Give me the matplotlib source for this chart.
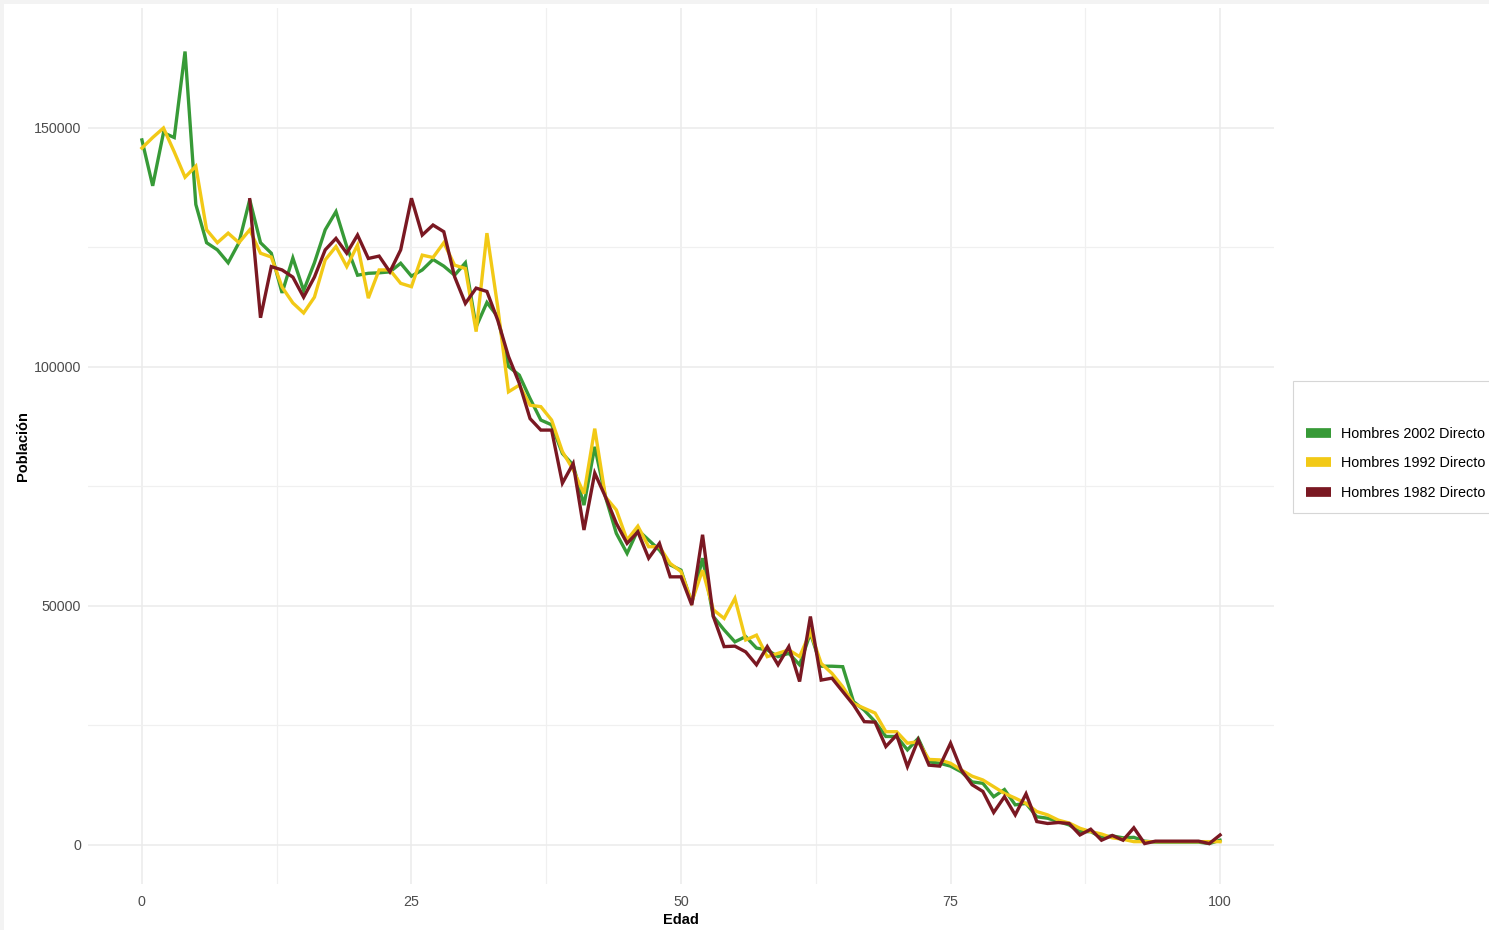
import numpy as np
import matplotlib.pyplot as plt
from matplotlib.patches import Rectangle
from matplotlib.lines import Line2D

plt.rcParams['font.family'] = ['Liberation Sans', 'DejaVu Sans']

# Población por edad (miles)
edad = list(range(0, 101))
edad_1982 = list(range(10, 101))

hombres_2002 = [
    147.5, 137.9, 149.0, 148.0, 166.0, 134.0, 126.0, 124.5, 121.8, 126.0,
    135.0, 126.0, 123.8, 115.5, 122.8, 116.0, 121.8, 128.7, 132.5, 125.2,
    119.2, 119.6, 119.7, 119.9, 121.7, 119.0, 120.3, 122.5, 121.1, 119.2,
    121.8, 108.4, 113.5, 110.5, 100.1, 98.3, 93.4, 88.9, 87.9, 81.9,
    79.5, 71.1, 83.3, 72.8, 65.2, 61.0, 65.9, 63.8, 61.7, 58.6,
    57.5, 50.6, 60.0, 47.8, 45.0, 42.5, 43.6, 41.2, 40.8, 39.4,
    40.1, 37.7, 44.3, 37.4, 37.4, 37.3, 30.0, 28.2, 25.8, 22.7,
    22.7, 19.9, 22.3, 17.4, 17.1, 16.5, 15.3, 13.2, 12.9, 10.1,
    11.6, 8.4, 8.7, 5.9, 5.6, 4.9, 4.2, 2.8, 2.8, 1.6,
    1.9, 1.5, 1.6, 0.8, 0.6, 0.6, 0.6, 0.6, 0.6, 0.3,
    1.0,
]

hombres_1992 = [
    145.8, 148.0, 150.0, 145.0, 139.7, 142.0, 128.7, 126.0, 128.0, 126.0,
    128.7, 123.8, 123.0, 116.7, 113.4, 111.3, 114.6, 122.4, 125.2, 121.0,
    125.5, 114.4, 120.3, 120.3, 117.5, 116.8, 123.4, 122.9, 126.0, 121.3,
    120.6, 107.4, 128.0, 112.6, 94.8, 96.2, 92.0, 91.7, 88.9, 82.3,
    78.5, 73.5, 87.1, 72.8, 70.1, 63.8, 66.7, 62.4, 62.4, 58.9,
    57.2, 50.9, 57.5, 49.2, 47.4, 51.6, 42.9, 43.9, 39.4, 40.1,
    40.8, 39.4, 44.6, 38.0, 35.9, 33.1, 29.6, 28.6, 27.6, 23.7,
    23.7, 21.3, 21.6, 17.9, 17.8, 17.1, 15.7, 14.4, 13.6, 12.2,
    10.8, 9.8, 8.7, 7.0, 6.3, 5.2, 4.6, 3.5, 2.8, 2.3,
    1.5, 1.2, 0.7, 0.7, 0.7, 0.7, 0.7, 0.7, 0.7, 0.7,
    0.7,
]

hombres_1982 = [
    135.0, 110.3, 121.0, 120.3, 118.8, 114.6, 118.8, 124.5, 126.9, 123.8,
    127.6, 122.7, 123.2, 119.9, 124.5, 135.3, 127.6, 129.7, 128.3, 118.9,
    113.3, 116.5, 115.8, 109.8, 102.2, 96.6, 89.2, 86.8, 86.8, 75.7,
    79.8, 65.9, 77.8, 72.8, 67.3, 63.1, 65.5, 60.0, 63.1, 56.1,
    56.1, 50.2, 64.9, 47.8, 41.5, 41.6, 40.4, 37.7, 41.5, 37.7,
    41.5, 34.2, 47.8, 34.5, 34.9, 32.1, 29.3, 25.8, 25.7, 20.6,
    23.0, 16.4, 22.0, 16.7, 16.5, 21.3, 15.7, 12.6, 11.2, 6.8,
    10.1, 6.3, 10.7, 4.9, 4.5, 4.7, 4.5, 2.1, 3.3, 1.0,
    2.0, 1.0, 3.6, 0.3, 0.8, 0.8, 0.8, 0.8, 0.8, 0.3,
    2.1,
]

series = ['Hombres 2002 Directo', 'Hombres 1992 Directo', 'Hombres 1982 Directo']
colores = ['#379a37', '#f2c916', '#7a1822']

fig = plt.figure(figsize=(14.89, 9.30), dpi=100)
fig.patch.set_facecolor('#f3f3f3')
fig.patches.append(Rectangle((4 / 1489, 0), 1, 1 - 4 / 930, transform=fig.transFigure,
                             facecolor='white', edgecolor='none', zorder=-10))

ax = fig.add_axes([88 / 1489, 1 - 884 / 930, (1274 - 88) / 1489, (884 - 8) / 930])
ax.set_zorder(2)
ax.set_facecolor('white')

datos = [(edad, hombres_2002), (edad, hombres_1992), (edad_1982, hombres_1982)]
for (x, y), nombre, color in zip(datos, series, colores):
    ax.plot(x, np.array(y) * 1000, color=color, lw=2.4, label=nombre,
            solid_joinstyle='miter', zorder=3)

ax.set_xlim(-5, 105)
ax.set_ylim(-8160, 175100)
ax.set_xticks([0, 25, 50, 75, 100])
ax.set_xticks([12.5, 37.5, 62.5, 87.5], minor=True)
ax.set_yticks([0, 50000, 100000, 150000])
ax.set_yticks([25000, 75000, 125000], minor=True)
ax.set_yticklabels(['0', '50000', '100000', '150000'])
ax.grid(which='major', color='#ebebeb', lw=1.1)
ax.grid(which='minor', color='#f0f0f0', lw=0.9)
ax.set_axisbelow(True)
for s in ax.spines.values():
    s.set_visible(False)
ax.tick_params(which='both', length=0, labelsize=10.3, labelcolor='#4d4d4d')
ax.tick_params(axis='x', pad=8)
ax.tick_params(axis='y', pad=5)

ax.set_xlabel('Edad', fontsize=10.5, fontweight='bold', labelpad=3)
ax.set_ylabel('Población', fontsize=10.5, fontweight='bold', labelpad=3)

handles = [Line2D([], [], color=c, lw=7, solid_capstyle='butt') for c in colores]
leg = fig.legend(handles, series, loc='upper left',
                 bbox_to_anchor=(1293 / 1489, 1 - 381 / 930),
                 title=' ', title_fontsize=14, fontsize=10.4, frameon=True,
                 fancybox=False, edgecolor='#cccccc', handlelength=1.7,
                 handletextpad=0.7, labelspacing=1.08, borderpad=0.9,
                 borderaxespad=0)
leg.get_frame().set_linewidth(0.8)
leg.set_zorder(3)

fig.savefig('out.png', dpi=100, facecolor=fig.get_facecolor())
